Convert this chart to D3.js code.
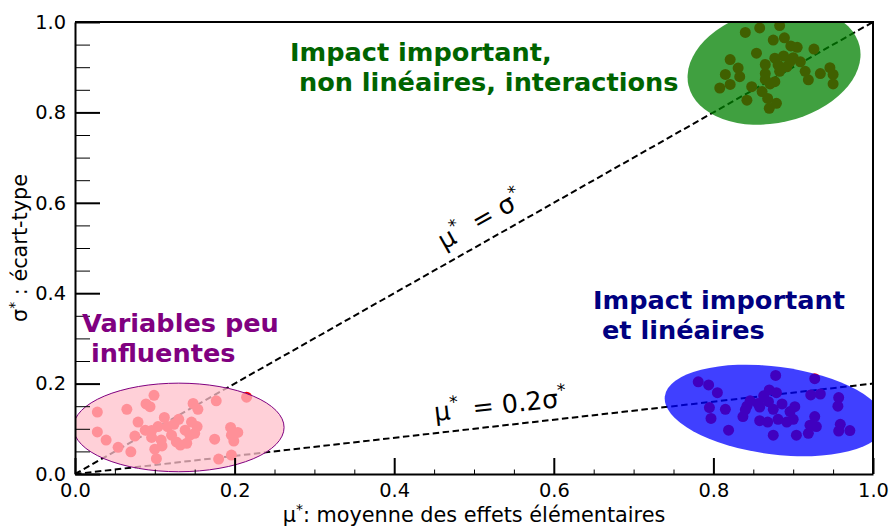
<!DOCTYPE html>
<html><head><meta charset="utf-8">
<script src="https://cdn.jsdelivr.net/npm/d3@7"></script>
<style>
body{margin:0;background:#fff}
text{font-family:"DejaVu Sans",sans-serif}
</style>
</head><body>
<svg id="chart" width="889" height="527"></svg>
<script>
// ---- data ----
const pinkMu    = [0.099,0.089,0.094,0.065,0.028,0.148,0.154,0.177,0.215,0.079,0.112,0.130,0.146,0.028,0.039,0.088,0.104,0.116,0.124,0.138,0.153,0.075,0.096,0.121,0.144,0.127,0.140,0.108,0.054,0.070,0.100,0.109,0.175,0.195,0.204,0.196,0.199,0.102,0.180,0.196,0.150,0.132,0.096];
const pinkSigma = [0.174,0.155,0.149,0.143,0.137,0.156,0.143,0.162,0.170,0.115,0.125,0.121,0.115,0.093,0.075,0.097,0.105,0.105,0.110,0.097,0.105,0.084,0.081,0.086,0.086,0.071,0.068,0.075,0.059,0.049,0.055,0.062,0.077,0.103,0.092,0.086,0.073,0.034,0.033,0.042,0.090,0.064,0.096];
const blueMu    = [0.781,0.794,0.805,0.878,0.927,0.870,0.879,0.922,0.934,0.957,0.795,0.815,0.846,0.856,0.869,0.886,0.902,0.956,0.840,0.858,0.875,0.896,0.797,0.837,0.858,0.868,0.881,0.892,0.900,0.927,0.921,0.929,0.959,0.819,0.875,0.904,0.919,0.957,0.971,0.863,0.842];
const blueSigma = [0.204,0.197,0.180,0.218,0.211,0.186,0.180,0.175,0.177,0.169,0.147,0.143,0.162,0.156,0.160,0.155,0.149,0.150,0.142,0.148,0.143,0.138,0.123,0.127,0.118,0.115,0.121,0.115,0.121,0.127,0.108,0.105,0.110,0.097,0.086,0.086,0.090,0.095,0.096,0.173,0.150];
const greenMu    = [0.840,0.858,0.883,0.875,0.889,0.897,0.905,0.926,0.854,0.821,0.877,0.888,0.900,0.909,0.865,0.881,0.892,0.831,0.815,0.833,0.865,0.883,0.915,0.919,0.934,0.946,0.950,0.950,0.821,0.808,0.848,0.865,0.877,0.871,0.861,0.842,0.868,0.879,0.870,0.896];
const greenSigma = [0.977,0.987,0.992,0.960,0.965,0.947,0.944,0.940,0.931,0.917,0.920,0.925,0.921,0.912,0.906,0.905,0.901,0.898,0.884,0.879,0.886,0.891,0.891,0.872,0.886,0.899,0.884,0.863,0.862,0.854,0.857,0.873,0.868,0.863,0.846,0.827,0.831,0.820,0.809,0.912];

// region ellipses (data units): centre, semi-axes, tilt
const ellipseNames  = ["pink","blue","green"];
const ellipseCx     = [0.130, 0.877, 0.876];
const ellipseCy     = [0.103, 0.1405, 0.903];
const ellipseRx     = [0.132, 0.139, 0.110];
const ellipseRy     = [0.098, 0.097, 0.126];
const ellipseAngle  = [0, 7.4, -13];
const ellipseFill   = ["pink","blue","green"];
const ellipseStroke = ["purple","none","none"];

// reference lines mu* = k sigma*
const lineSlopes = [1, 0.2];

const xMajor = [0,0.2,0.4,0.6,0.8,1.0];
const yMajor = [0,0.2,0.4,0.6,0.8,1.0];
const minorTicks = [0.05,0.1,0.15,0.25,0.3,0.35,0.45,0.5,0.55,0.65,0.7,0.75,0.85,0.9,0.95];

// ---- drawing ----
const svg = d3.select("#chart");
const X0=75, X1=873, Y0=474, Y1=22;
const x = d3.scaleLinear().domain([0,1]).range([X0,X1]);
const y = d3.scaleLinear().domain([0,1]).range([Y0,Y1]);

svg.append("defs").append("clipPath").attr("id","clip")
  .append("rect").attr("x",X0).attr("y",Y1).attr("width",X1-X0).attr("height",Y0-Y1);

const plot = svg.append("g").attr("clip-path","url(#clip)");

// dashed lines
lineSlopes.forEach(k=>{
  plot.append("line")
    .attr("x1",x(0)).attr("y1",y(0)).attr("x2",x(1)).attr("y2",y(k))
    .attr("stroke","#000").attr("stroke-width",2).attr("stroke-dasharray","6.5,3.5");
});

// points
const groups = [[pinkMu,pinkSigma],[blueMu,blueSigma],[greenMu,greenSigma]];
groups.forEach(([mu,sg])=>{
  plot.append("g").selectAll("circle").data(d3.range(mu.length)).join("circle")
    .attr("cx",i=>x(mu[i])).attr("cy",i=>y(sg[i])).attr("r",5.5).attr("fill","red");
});

// ellipses
ellipseNames.forEach((n,i)=>{
  const cx=x(ellipseCx[i]), cy=y(ellipseCy[i]);
  plot.append("ellipse")
    .attr("transform",`translate(${cx},${cy}) rotate(${ellipseAngle[i]})`)
    .attr("rx", x(ellipseCx[i]+ellipseRx[i])-cx)
    .attr("ry", cy-y(ellipseCy[i]+ellipseRy[i]))
    .attr("fill",ellipseFill[i]).attr("fill-opacity",0.75)
    .attr("stroke",ellipseStroke[i]).attr("stroke-width",1);
});

// axes
const fmt = d3.format(".1f");
const yAxis = svg.append("g").attr("transform",`translate(${X0},0)`)
  .call(d3.axisLeft(y).tickValues(yMajor).tickSize(-25).tickSizeOuter(0).tickPadding(9).tickFormat(fmt));
svg.append("g").attr("transform",`translate(${X0},0)`)
  .call(d3.axisLeft(y).tickValues(minorTicks).tickSize(-15).tickSizeOuter(0).tickFormat(""))
  .call(g=>g.select(".domain").remove())
  .call(g=>g.selectAll("line").attr("stroke-width",1));
const xAxis = svg.append("g").attr("transform",`translate(0,${Y0})`)
  .call(d3.axisBottom(x).tickValues(xMajor).tickSize(-16).tickSizeOuter(0).tickPadding(9).tickFormat(fmt));
svg.append("g").attr("transform",`translate(0,${Y0})`)
  .call(d3.axisBottom(x).tickValues(minorTicks).tickSize(-4.5).tickSizeOuter(0).tickFormat(""))
  .call(g=>g.select(".domain").remove())
  .call(g=>g.selectAll("line").attr("stroke-width",1));
[yAxis,xAxis].forEach(a=>{
  a.selectAll("text").attr("font-size",19.4).attr("font-family","DejaVu Sans").attr("fill","#000");
  a.selectAll("line").attr("stroke-width",2);
  a.select(".domain").attr("stroke-width",2);
});
// top & right spines
svg.append("path").attr("d",`M${X0},${Y1}H${X1}V${Y0}`).attr("fill","none").attr("stroke","#000").attr("stroke-width",2);

// axis labels
const xl = svg.append("text").attr("x",(X0+X1)/2).attr("y",522).attr("text-anchor","middle").attr("font-size",20.8);
xl.append("tspan").text("μ");
xl.append("tspan").attr("font-size",14).attr("dy",-8).text("*");
xl.append("tspan").attr("dy",8).text(": moyenne des effets élémentaires");

const yl = svg.append("text").attr("transform",`translate(27,${(Y0+Y1)/2}) rotate(-90)`).attr("text-anchor","middle").attr("font-size",20.8);
yl.append("tspan").text("σ");
yl.append("tspan").attr("font-size",14).attr("dy",-8).text("*");
yl.append("tspan").attr("dy",8).text(" : écart-type");

// region annotations
function label(lines, px, py, color){
  const t = svg.append("text").attr("font-size",25.6).attr("font-weight","bold").attr("fill",color)
    .style("white-space","pre");
  lines.forEach((s,i)=>t.append("tspan").attr("x",px).attr("y",py+i*30).text(s));
}
label(["Impact important,"," non linéaires, interactions"], 290, 61, "#006400");
label(["Variables peu"," influentes"], 82, 332, "#800080");
label(["Impact important"," et linéaires"], 593, 309, "#000080");

// line annotations (mathtext-like spacing around "=")
function mathLabel(px, py, ang, base, rhs){
  const t = svg.append("text").attr("transform",`translate(${px},${py}) rotate(${ang})`).attr("font-size",25.5);
  t.append("tspan").text(base);
  t.append("tspan").attr("font-size",17).attr("dy",-11).text("*");
  t.append("tspan").attr("dy",11).attr("dx",14).text("=");
  t.append("tspan").attr("dx",8).text(rhs);
  t.append("tspan").attr("font-size",17).attr("dy",-11).text("*");
}
mathLabel(444, 250, -29.5, "μ", "σ");
mathLabel(435, 421, -6.4, "μ", "0.2σ");
</script>
</body></html>
